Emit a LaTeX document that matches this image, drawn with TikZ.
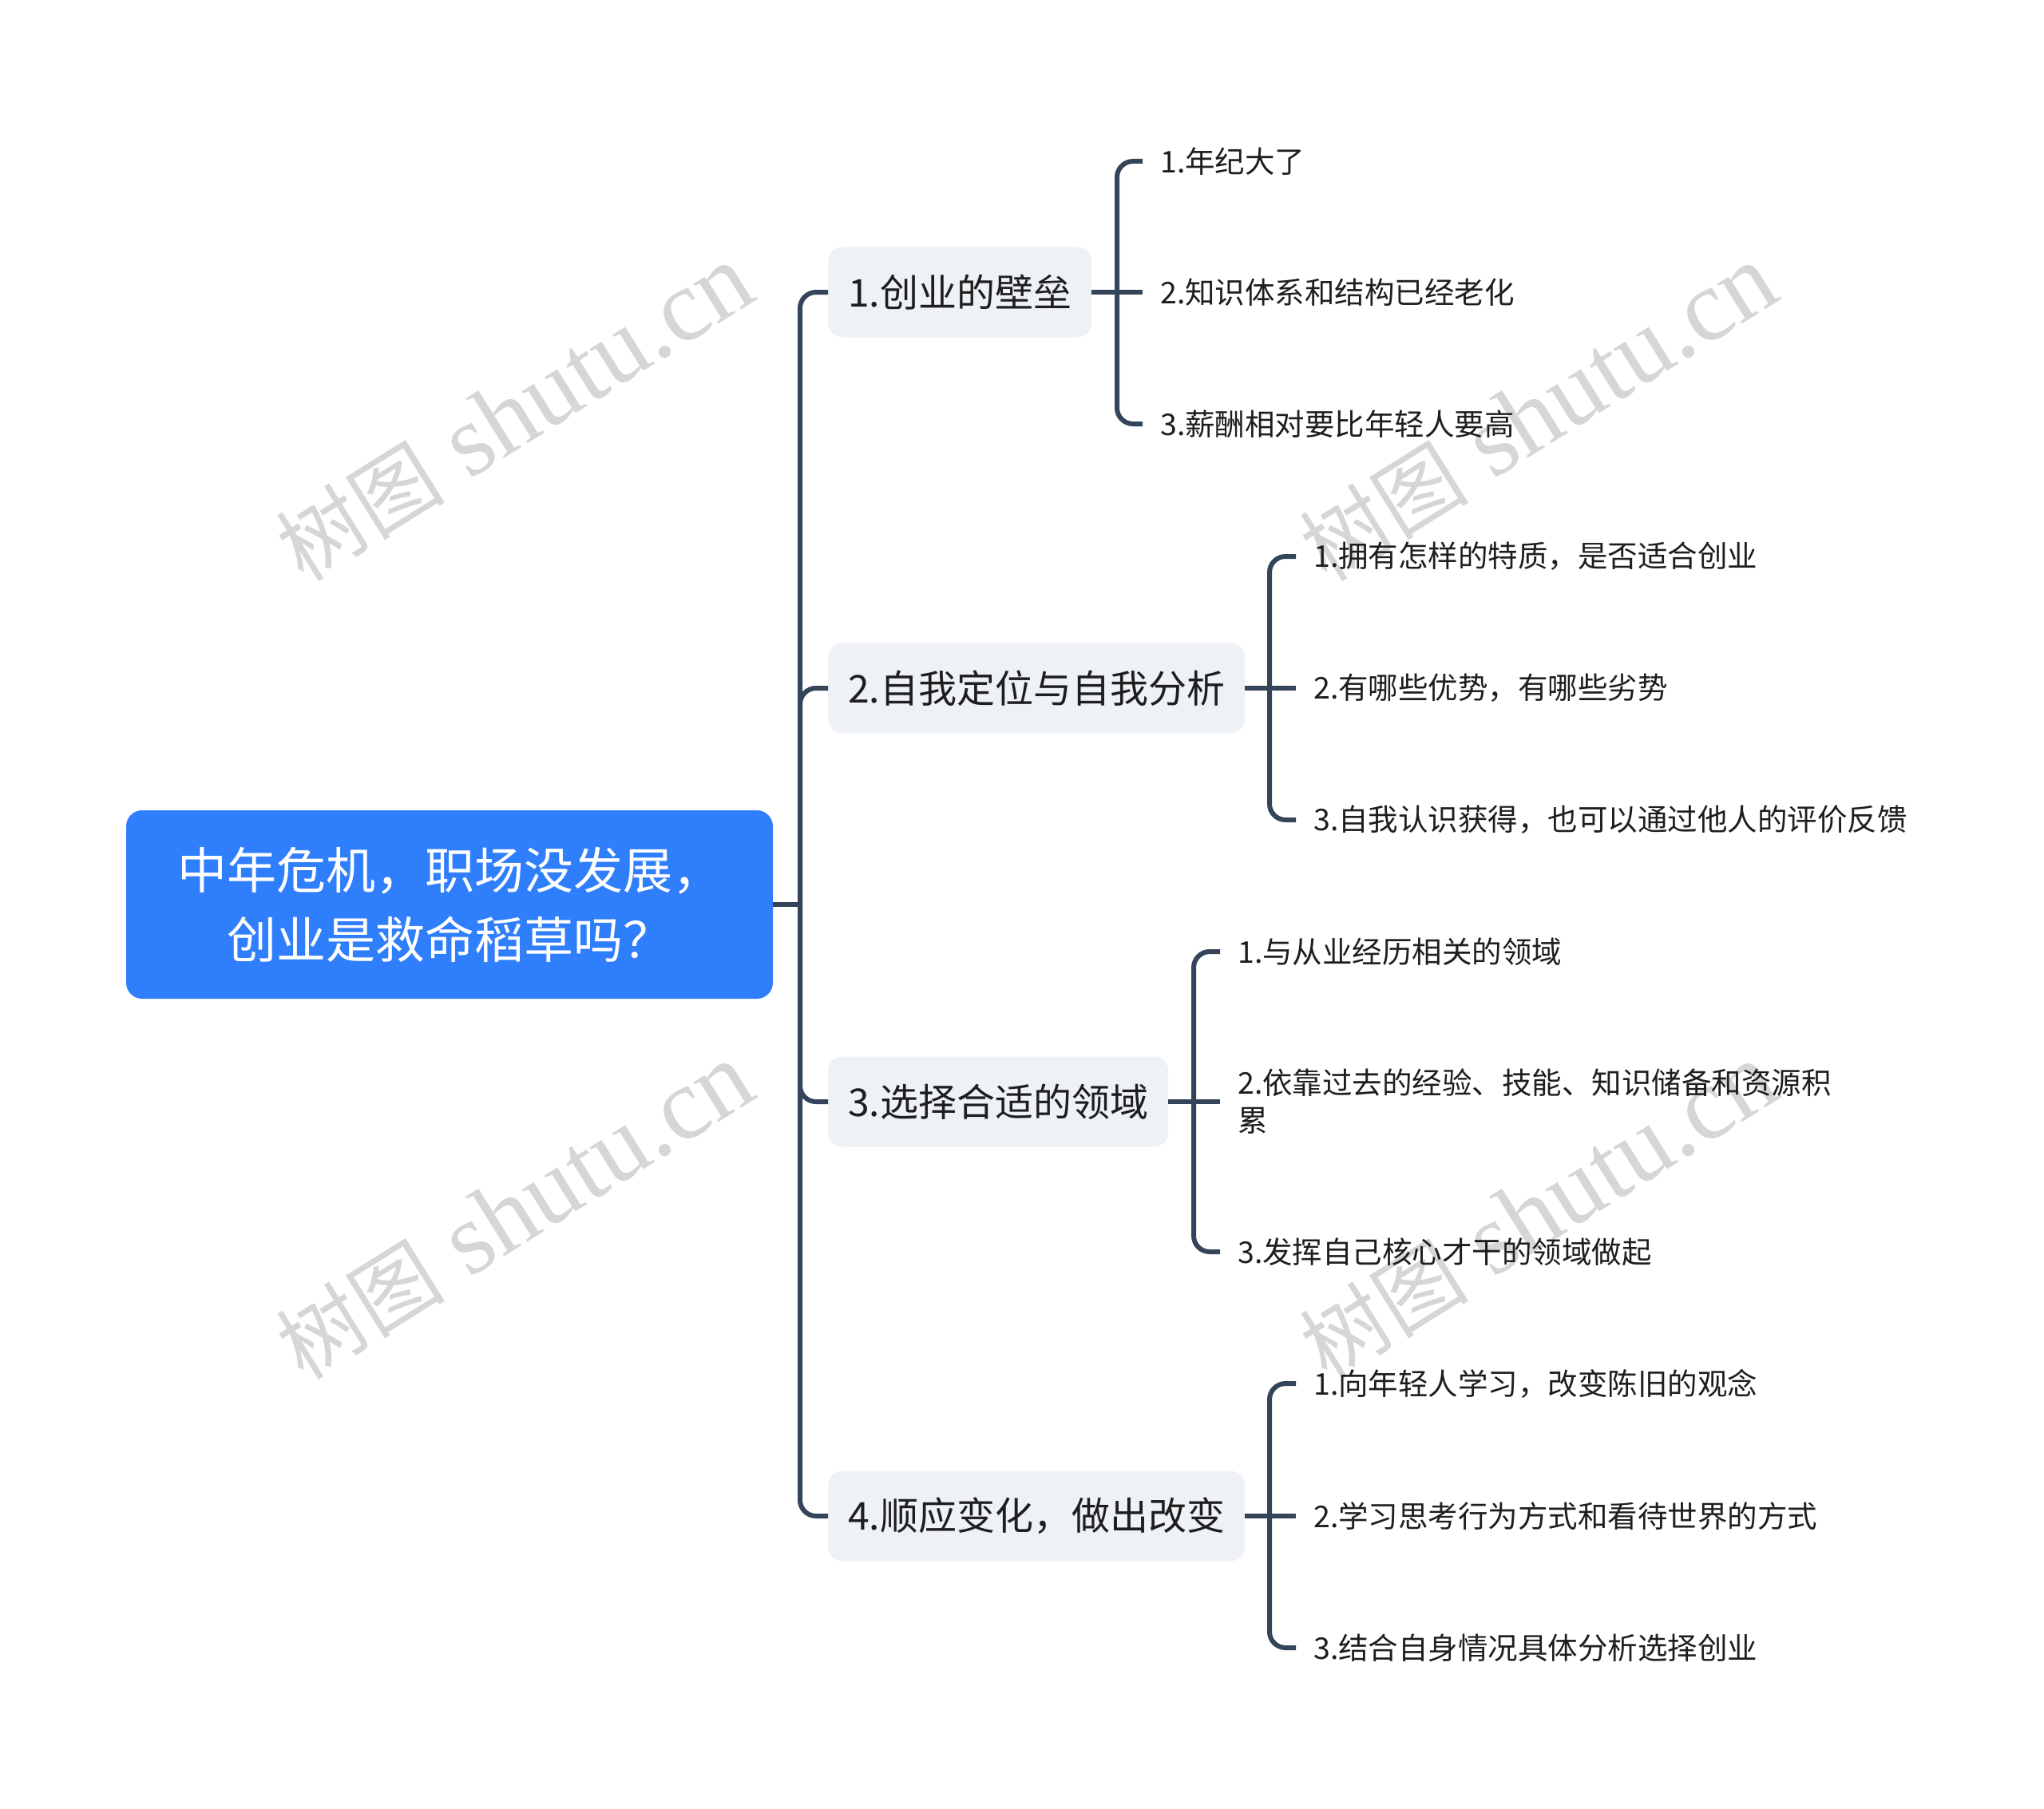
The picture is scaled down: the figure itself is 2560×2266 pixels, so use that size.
\documentclass[tikz,border=0pt]{standalone}
\usepackage{fontspec}
\setmainfont{Noto Sans CJK SC}
\newfontfamily\wmserif{Liberation Serif}
\newfontfamily\wmcjk{Noto Sans CJK SC}
\definecolor{linec}{HTML}{34455A}
\definecolor{rootc}{HTML}{2F7EFB}
\definecolor{boxc}{HTML}{EEF1F5}
\definecolor{textc}{HTML}{1E1E1E}
\definecolor{wmc}{HTML}{D6D6D6}
\newcommand{\wmtext}{{\wmcjk\fontsize{106}{106}\selectfont 树图}{\wmserif\fontsize{128}{128}\selectfont\ shutu.cn}}
\begin{document}
\begin{tikzpicture}[x=1pt,y=-1pt,
  conn/.style={draw=linec, line width=6pt},
  rootbox/.style={fill=rootc, rounded corners=20pt, text=white, minimum width=810pt, minimum height=236pt, align=center, inner sep=0pt, font=\fontsize{62}{87}\selectfont},
  branchbox/.style={fill=boxc, rounded corners=18pt, text=textc, minimum height=113pt, inner xsep=25pt, inner ysep=0pt, anchor=west, font=\fontsize{48}{58}\selectfont},
  leaf/.style={anchor=west, inner xsep=22pt, inner ysep=0pt, text=textc, align=left, font=\fontsize{37.5}{47}\selectfont},
  wm/.style={text=wmc, rotate=32, inner sep=0pt}
]
\useasboundingbox[fill=white] (0,0) rectangle (2560,2266);

% watermarks
\node[wm] (w1) at (645,518) {\wmtext};
\node[wm] (w2) at (1927,518) {\wmtext};
\node[wm] (w3) at (645,1518) {\wmtext};
\node[wm] (w4) at (1927,1518) {\wmtext};

% root
\node[rootbox] (root) at (563,1133) {中年危机，职场没发展，\\创业是救命稻草吗？};

% branches
\node[branchbox] (b1) at (1037,366) {1.创业的壁垒};
\node[branchbox] (b2) at (1037,862) {2.自我定位与自我分析};
\node[branchbox] (b3) at (1037,1380) {3.选择合适的领域};
\node[branchbox] (b4) at (1037,1899) {4.顺应变化，做出改变};

% leaves
\node[leaf] (l11) at (1431,202) {1.年纪大了};
\node[leaf] (l12) at (1431,366) {2.知识体系和结构已经老化};
\node[leaf] (l13) at (1431,531) {3.薪酬相对要比年轻人要高};

\node[leaf] (l21) at (1623,697) {1.拥有怎样的特质，是否适合创业};
\node[leaf] (l22) at (1623,862) {2.有哪些优势，有哪些劣势};
\node[leaf] (l23) at (1623,1027) {3.自我认识获得，也可以通过他人的评价反馈};

\node[leaf] (l31) at (1528,1192) {1.与从业经历相关的领域};
\node[leaf] (l32) at (1528,1380) {2.依靠过去的经验、技能、知识储备和资源积\\累};
\node[leaf] (l33) at (1528,1568) {3.发挥自己核心才干的领域做起};

\node[leaf] (l41) at (1623,1733) {1.向年轻人学习，改变陈旧的观念};
\node[leaf] (l42) at (1623,1899) {2.学习思考行为方式和看待世界的方式};
\node[leaf] (l43) at (1623,2064) {3.结合自身情况具体分析选择创业};

% junctions
\coordinate (J) at (1002,1133);
\coordinate (j1) at (1399,366);
\coordinate (j2) at (1590,862);
\coordinate (j3) at (1495,1380);
\coordinate (j4) at (1590,1899);

% main connectors
\draw[conn] (root.east) -- (J);
\draw[conn, rounded corners=20pt] (J) |- (b1.west);
\draw[conn, rounded corners=20pt] (J) |- (b2.west);
\draw[conn, rounded corners=20pt] (J) |- (b3.west);
\draw[conn, rounded corners=20pt] (J) |- (b4.west);

% group connectors
\draw[conn] (b1.east) -- (l12.west);
\draw[conn, rounded corners=20pt] (j1) |- (l11.west);
\draw[conn, rounded corners=20pt] (j1) |- (l13.west);

\draw[conn] (b2.east) -- (l22.west);
\draw[conn, rounded corners=20pt] (j2) |- (l21.west);
\draw[conn, rounded corners=20pt] (j2) |- (l23.west);

\draw[conn] (b3.east) -- (l32.west);
\draw[conn, rounded corners=20pt] (j3) |- (l31.west);
\draw[conn, rounded corners=20pt] (j3) |- (l33.west);

\draw[conn] (b4.east) -- (l42.west);
\draw[conn, rounded corners=20pt] (j4) |- (l41.west);
\draw[conn, rounded corners=20pt] (j4) |- (l43.west);
\end{tikzpicture}
\end{document}
